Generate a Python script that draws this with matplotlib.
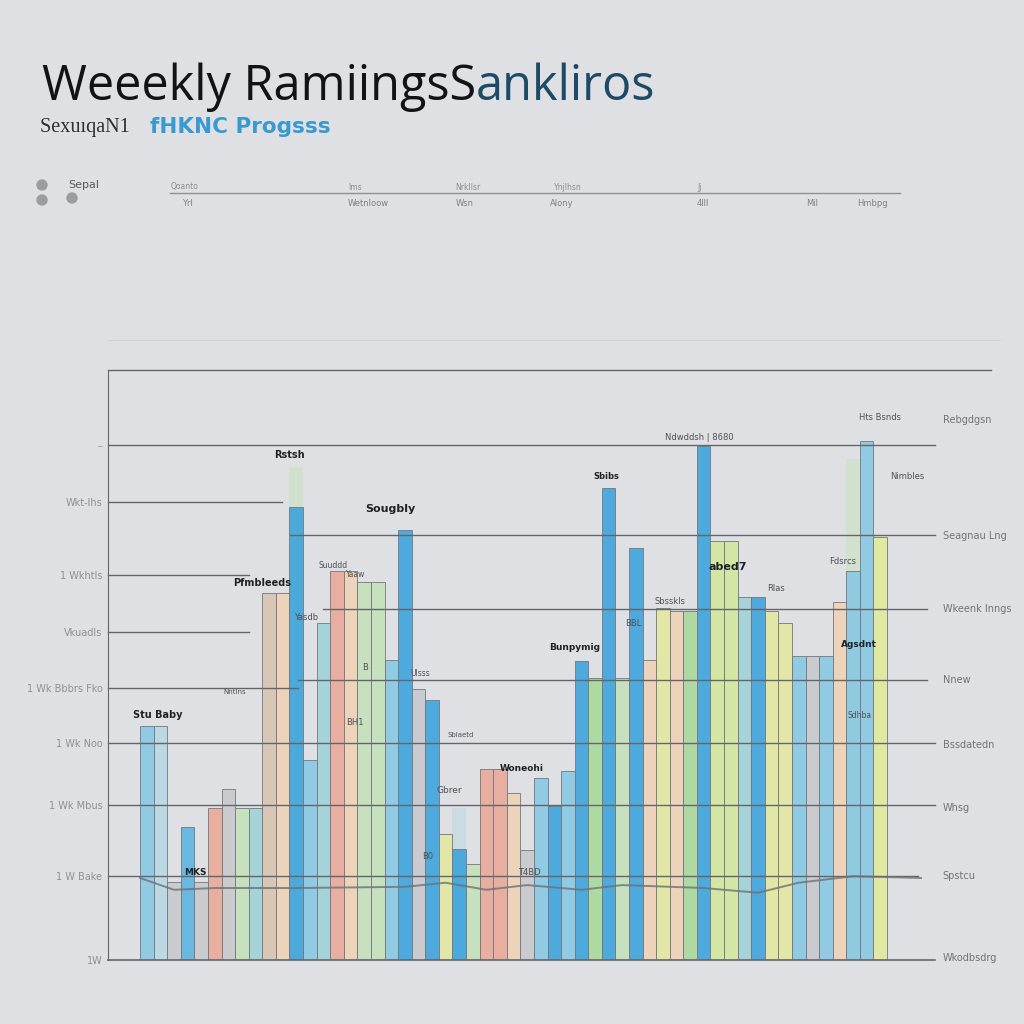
import numpy as np
import matplotlib
matplotlib.use("Agg")
import matplotlib.pyplot as plt
from matplotlib.lines import Line2D
from matplotlib.patches import Circle

# ---- data ----
heights = [39.6, 39.6, 13.2, 22.6, 13.2, 25.8, 28.9, 25.8, 25.8, 62.2,
           62.2, 76.7, 33.9, 57.2, 66.0, 66.0, 64.1, 64.1, 50.9, 72.9,
           45.9, 44.0, 21.4, 18.8, 16.3, 32.4, 32.4, 28.3, 18.6, 30.8,
           26.1, 32.0, 50.6, 47.8, 80.0, 47.8, 69.8, 50.8, 59.7, 59.1,
           59.1, 87.1, 71.0, 71.0, 61.6, 61.6, 59.1, 57.2, 51.5, 51.5,
           51.5, 60.7, 66.0, 88.0, 71.7]
bar_kinds = "bpgMgkglTtcBbTkcllbBgByBlkkcgbBbBGBlBcycGBYYTByybgbcbby"
ghost_idx = [11, 23, 52, 54]
ghost_vals = [83.6, 25.8, 84.9, 72.0]
ghost_kinds = "lplY"

line_idx = [-0.5, 2, 5, 11, 19, 22, 25, 28, 32, 35, 41, 45, 48, 52, 57]
line_vals = [13.9, 11.9, 12.2, 12.2, 12.4, 13.1, 11.9, 12.7, 11.9, 12.7,
             12.2, 11.4, 13.1, 14.2, 13.9]

left_ticks = [87.3, 77.6, 65.3, 55.6, 46.1, 36.8, 26.3, 14.2, 0]
left_labels = ["\u2013", "Wkt-lhs", "1 Wkhtls", "Vkuadls", "1 Wk Bbbrs Fko",
               "1 Wk Noo", "1 Wk Mbus", "1 W Bake", "1W"]

right_vals = [91.5, 71.9, 59.5, 47.5, 36.4, 25.8, 14.2, 0.3]
right_labels = ["Rebgdgsn", "Seagnau Lng", "Wkeenk Inngs", "Nnew",
                "Bssdatedn", "Whsg", "Spstcu", "Wkodbsdrg"]

# gridline level, start, end (axes fraction)
grid_vals = [87.3, 77.6, 72.0, 65.3, 59.5, 55.6, 47.5, 46.1, 36.8, 26.3, 14.2]
grid_from = [0.0, 0.0, 0.22, 0.0, 0.26, 0.0, 0.23, 0.0, 0.0, 0.0, 0.0]
grid_to = [1.0, 0.21, 1.0, 0.17, 0.99, 0.17, 0.99, 0.23, 1.0, 1.0, 0.98]

notes = [("Rstsh", 10.5, 85.6, 7, "bold"), ("Sougbly", 17.9, 76.4, 8, "bold"),
         ("Pfmbleeds", 8.5, 63.9, 7, "bold"), ("Suuddd", 13.7, 66.9, 5.5, "normal"),
         ("Yaaw", 15.4, 65.4, 5.5, "normal"), ("Yasdb", 11.7, 58.0, 6, "normal"),
         ("Stu Baby", 0.8, 41.5, 7, "bold"), ("MKS", 3.6, 14.9, 6.5, "bold"),
         ("Sbibs", 33.8, 82.0, 6, "bold"), ("Bunpymig", 31.5, 53.0, 6.5, "bold"),
         ("Woneohi", 27.6, 32.5, 6.5, "bold"), ("Gbrer", 22.3, 28.8, 6.5, "normal"),
         ("Ndwddsh | 8680", 40.7, 88.6, 6, "normal"), ("Hts Bsnds", 54.0, 91.9, 6, "normal"),
         ("Nimbles", 56.0, 82.0, 6, "normal"), ("abed7", 42.8, 66.6, 8, "bold"),
         ("Fdsrcs", 51.2, 67.5, 6, "normal"), ("Rlas", 46.3, 63.0, 6, "normal"),
         ("Sbsskls", 38.5, 60.7, 6, "normal"), ("Agsdnt", 52.4, 53.4, 6.5, "bold"),
         ("Sdhba", 52.5, 41.4, 5.5, "normal"), ("BH1", 15.3, 40.3, 6, "normal"),
         ("Ulsss", 20.1, 48.6, 5.5, "normal"), ("Sblaetd", 23.1, 38.1, 5, "normal"),
         ("Nntlns", 6.5, 45.4, 5, "normal"), ("B0", 20.7, 17.5, 6, "normal"),
         ("T4BD", 28.2, 14.9, 6, "normal"), ("BBL", 35.8, 57.0, 6, "normal"),
         ("B", 16.1, 49.5, 6, "normal")]

legend_top = ["Qoanto", "Ims", "Nrkllsr", "Ynjlhsn", "Jj"]
legend_bottom = ["Yrl", "Wetnloow", "Wsn", "Alony", "4lll", "Mil", "Hmbpg"]

palette = {
    "B": "#3aa3dc", "M": "#5ab3e0", "b": "#86c7e3", "p": "#b8d8e4",
    "g": "#c6c9cd", "k": "#eaa897", "c": "#f1d2b6", "t": "#d9c4b0",
    "l": "#c4e2b9", "G": "#a9d99a", "y": "#e3e99f", "Y": "#d3e79b",
    "T": "#9fd2d6",
}

bg = "#dfe0e3"
fig = plt.figure(figsize=(10.24, 10.24), dpi=100, facecolor=bg)
plt.rcParams['font.family'] = ['DejaVu Sans']

ax = fig.add_axes([108 / 1024, 64 / 1024, 827 / 1024, 590 / 1024])
ax.set_facecolor(bg)

x = np.arange(len(heights))
# faded tops behind some bars
ax.bar(ghost_idx, ghost_vals, width=1.0,
       color=[palette[k] for k in ghost_kinds], alpha=0.5, linewidth=0, zorder=1)
ax.bar(x, heights, width=1.0, color=[palette[k] for k in bar_kinds],
       edgecolor=(0.45, 0.47, 0.5, 0.2), linewidth=0.7, alpha=0.88, zorder=2)

ax.plot(line_idx, line_vals, color="#6b7176", lw=1.4, alpha=0.8, zorder=4, clip_on=False)

for v, a, b in zip(grid_vals, grid_from, grid_to):
    ax.axhline(v, xmin=a, xmax=b, color="#62666b", lw=1.0, zorder=3, clip_on=False)
ax.axhline(100, xmin=0, xmax=1.068, color="#62666b", lw=1.0, clip_on=False)
ax.axvline(40.5, ymin=0, ymax=0.873, color="#7a7e83", lw=0.6, zorder=3)

ax.set_xlim(-2.86, 58.03)
ax.set_ylim(0, 100)
ax.set_xticks([])
ax.set_yticks(left_ticks)
ax.set_yticklabels(left_labels, fontsize=7, color="#8d9095")
ax.tick_params(axis="y", length=0, pad=4)
for s in ["top", "right"]:
    ax.spines[s].set_visible(False)
ax.spines["left"].set_color("#62666b")
ax.spines["bottom"].set_color("#62666b")
ax.spines["bottom"].set_linewidth(1.2)

for t, xi, yi, fs, fw in notes:
    ax.text(xi, yi, t, fontsize=fs, fontweight=fw, ha="center", va="center",
            color="#1e2226" if fw == "bold" else "#4c5156", zorder=5, clip_on=False)

for v, t in zip(right_vals, right_labels):
    ax.text(58.6, v, t, fontsize=7, color="#6f7378", ha="left", va="center", clip_on=False)

# title and subtitle
t1 = fig.text(42 / 1024, 1 - 100 / 1024, "Weeekly RamiingsS", fontsize=35,
              color="#111315", family="Open Sans", va="baseline")
ax.annotate("ankliros", xy=(1, 0), xycoords=t1, fontsize=35, color="#1d4a66",
            family="Open Sans", va="bottom", annotation_clip=False)
t2 = fig.text(40 / 1024, 1 - 132 / 1024, "SexuıqaN1    ", fontsize=14.5,
              color="#2b2e31", family="Liberation Serif", va="baseline")
ax.annotate("fHKNC Progsss", xy=(1, 0), xycoords=t2, fontsize=15.5, color="#3a9ad0",
            fontweight="bold", va="bottom", annotation_clip=False)

# legend-like row at the top
for cx, cy in [(42, 185), (42, 200), (72, 198)]:
    fig.add_artist(Circle((cx / 1024, 1 - cy / 1024), 5 / 1024, color="#9a9da1",
                          transform=fig.transFigure))
fig.text(68 / 1024, 1 - 185 / 1024, "Sepal", fontsize=8, color="#55595e", va="center")
fig.add_artist(Line2D([170 / 1024, 900 / 1024], [1 - 193 / 1024] * 2,
                      color="#8d9095", lw=1.0))
for t, px in zip(legend_top, [185, 355, 468, 568, 700]):
    fig.text(px / 1024, 1 - 187 / 1024, t, fontsize=5.5, color="#8a8d92",
             ha="center", va="center")
for t, px in zip(legend_bottom, [187, 368, 465, 562, 703, 812, 872]):
    fig.text(px / 1024, 1 - 203 / 1024, t, fontsize=6, color="#7d8085",
             ha="center", va="center")
fig.add_artist(Line2D([108 / 1024, 1000 / 1024], [1 - 340 / 1024] * 2,
                      color="#cfd1d4", lw=0.8))

fig.savefig("out.png", dpi=100, facecolor=bg)
